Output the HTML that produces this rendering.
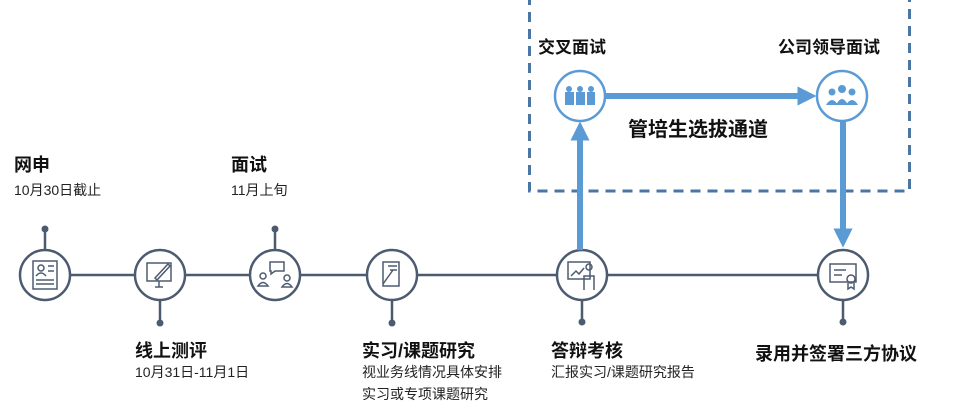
<!DOCTYPE html>
<html><head><meta charset="utf-8"><style>
body{margin:0;background:#fff;width:953px;height:414px;overflow:hidden;position:relative;font-family:"Liberation Sans","Noto Sans CJK SC",sans-serif;color:#111}
.t{position:absolute;white-space:nowrap}
.b{font-weight:bold;font-size:18px}
.s{font-size:14px;color:#222}
</style></head><body>
<svg width="953" height="414" style="position:absolute;left:0;top:0">
<defs><marker id="ah" markerWidth="3.2" markerHeight="3.2" refX="1.6" refY="1.6" orient="auto" markerUnits="strokeWidth"><path d="M0,0 L3.2,1.6 L0,3.2z" fill="#5b9bd5"/></marker></defs>
<rect x="529.5" y="-2" width="380" height="193" fill="none" stroke="#4a76a5" stroke-width="3" stroke-dasharray="10,7"/>
<g stroke="#4d5b70" stroke-width="2.5" fill="none">
<line x1="45" y1="275" x2="843" y2="275"/>
<line x1="45" y1="229" x2="45" y2="250"/>
<line x1="275" y1="229" x2="275" y2="250"/>
<line x1="160" y1="300" x2="160" y2="323"/>
<line x1="392" y1="300" x2="392" y2="323"/>
<line x1="582" y1="300" x2="582" y2="322"/>
<line x1="843" y1="300" x2="843" y2="322"/>
</g>
<g fill="#4d5b70"><circle cx="45" cy="229" r="3.5"/><circle cx="275" cy="229" r="3.5"/><circle cx="160" cy="323" r="3.5"/><circle cx="392" cy="323" r="3.5"/><circle cx="582" cy="322" r="3.5"/><circle cx="843" cy="322" r="3.5"/></g>
<g fill="#fff" stroke="#4d5b70" stroke-width="2.5">
<circle cx="45" cy="275" r="25"/><circle cx="160" cy="275" r="25"/><circle cx="275" cy="275" r="25"/><circle cx="392" cy="275" r="25"/><circle cx="582" cy="275" r="25"/><circle cx="843" cy="275" r="25"/>
</g>
<g stroke="#4d5b70" stroke-width="1.5" fill="none">
<rect x="33" y="261" width="24" height="28"/><circle cx="41" cy="268" r="3"/><path d="M36 276 q5-6 10 0"/><line x1="36" y1="280" x2="54" y2="280"/><line x1="36" y1="284" x2="54" y2="284"/><line x1="48" y1="266" x2="54" y2="266"/><line x1="48" y1="271" x2="54" y2="271"/>
<rect x="147" y="263" width="24" height="18"/><line x1="155" y1="287" x2="163" y2="287"/><line x1="159" y1="281" x2="159" y2="287"/><path d="M155 278 l13-14 l2 2 l-13 14z"/>
<path d="M270 262 h14 v9 h-9 l-4 3 v-3 h-1z"/><circle cx="263" cy="276" r="3"/><path d="M258 286 q5-7 10 0z"/><circle cx="287" cy="278" r="3"/><path d="M282 287 q5-7 10 0z"/>
<path d="M383 262 h16 v24 h-16z"/><path d="M383 284 l10-14"/><line x1="388" y1="266" x2="397" y2="266"/><line x1="390" y1="270" x2="397" y2="270"/>
<rect x="568" y="262" width="22" height="17"/><path d="M571 276 l5-5 3 3 5-6"/><circle cx="589" cy="267" r="3"/><path d="M584 290 v-14 h10 v14"/>
<rect x="830" y="264" width="26" height="18"/><line x1="834" y1="270" x2="846" y2="270"/><line x1="834" y1="275" x2="842" y2="275"/><circle cx="851" cy="279" r="4"/><path d="M848 283 v6 l3-2 3 2 v-6"/>
</g>
<g stroke="#5b9bd5" stroke-width="6" fill="none">
<line x1="580" y1="250" x2="580" y2="131" marker-end="url(#ah)"/>
<line x1="605" y1="96" x2="807" y2="96" marker-end="url(#ah)"/>
<line x1="843" y1="122" x2="843" y2="238" marker-end="url(#ah)"/>
</g>
<g fill="#fff" stroke="#5b9bd5" stroke-width="2.5"><circle cx="580" cy="96" r="25"/><circle cx="842" cy="96" r="25"/></g>
<g fill="#5b9bd5">
<rect x="565" y="92" width="9" height="13"/><rect x="576" y="92" width="9" height="13"/><rect x="587" y="92" width="8" height="13"/>
<circle cx="569" cy="89" r="3"/><circle cx="580" cy="89" r="3"/><circle cx="591" cy="89" r="3"/>
<circle cx="842" cy="89" r="4"/><circle cx="832" cy="92" r="3.5"/><circle cx="852" cy="92" r="3.5"/>
<path d="M826 105 q6-10 12 0z M836 105 q6-12 12 0z M846 105 q6-10 12 0z"/>
</g>
</svg>
<div class="t b" style="left:14px;top:151px">网申</div>
<div class="t s" style="left:14px;top:180px">10月30日截止</div>
<div class="t b" style="left:231px;top:151px">面试</div>
<div class="t s" style="left:231px;top:180px">11月上旬</div>
<div class="t b" style="left:135px;top:337px">线上测评</div>
<div class="t s" style="left:135px;top:362px">10月31日-11月1日</div>
<div class="t b" style="left:362px;top:337px">实习/课题研究</div>
<div class="t s" style="left:362px;top:362px">视业务线情况具体安排</div>
<div class="t s" style="left:362px;top:384px">实习或专项课题研究</div>
<div class="t b" style="left:551px;top:337px">答辩考核</div>
<div class="t s" style="left:551px;top:362px">汇报实习/课题研究报告</div>
<div class="t b" style="left:755px;top:340px">录用并签署三方协议</div>
<div class="t b" style="left:538px;top:33px;font-size:17px">交叉面试</div>
<div class="t b" style="left:778px;top:33px;font-size:17px">公司领导面试</div>
<div class="t b" style="left:628px;top:113px;font-size:20px">管培生选拔通道</div>
</body></html>
